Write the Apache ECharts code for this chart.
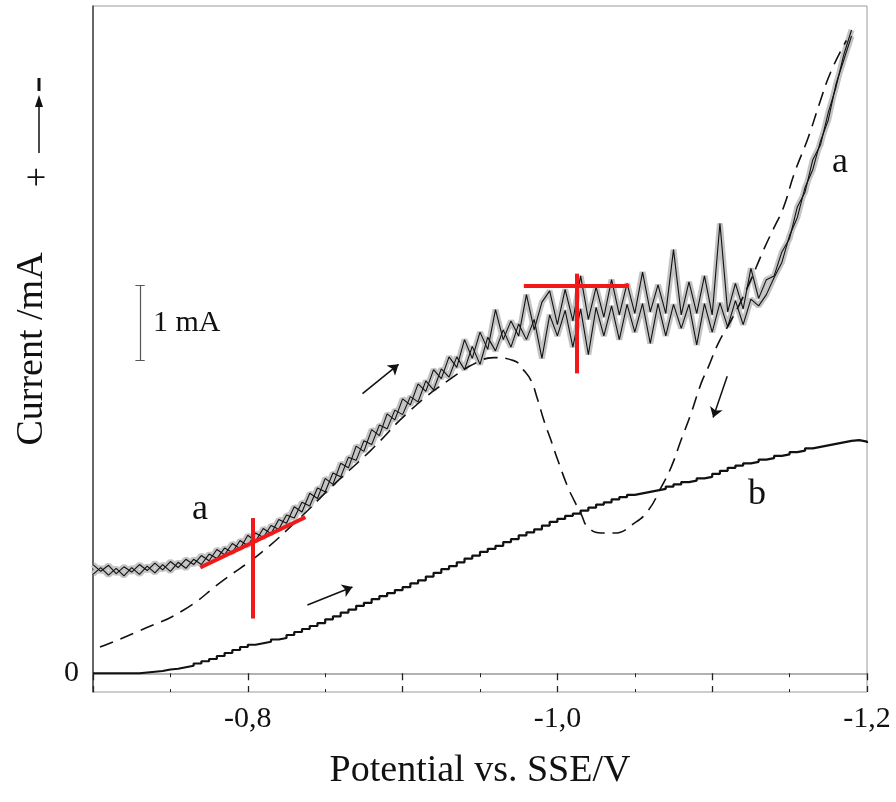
<!DOCTYPE html>
<html>
<head>
<meta charset="utf-8">
<script src="https://cdn.jsdelivr.net/npm/echarts@6/dist/echarts.min.js"></script>
<style>
	html, body { margin: 0; padding: 0; background: #fff; }
	#chart { width: 896px; height: 802px; }
</style>
</head>
<body>
<div id="chart"></div>
<script>
// potential grid (V vs. SSE), shared by curves a and b
var potential = [
	-0.700, -0.705, -0.710, -0.715, -0.720, -0.725, -0.730, -0.735, -0.740, -0.745,
	-0.750, -0.755, -0.760, -0.765, -0.770, -0.775, -0.780, -0.785, -0.790, -0.795,
	-0.800, -0.805, -0.810, -0.815, -0.820, -0.825, -0.830, -0.835, -0.840, -0.845,
	-0.850, -0.855, -0.860, -0.865, -0.870, -0.875, -0.880, -0.885, -0.890, -0.895,
	-0.900, -0.905, -0.910, -0.915, -0.920, -0.925, -0.930, -0.935, -0.940, -0.945,
	-0.950, -0.955, -0.960, -0.965, -0.970, -0.975, -0.980, -0.985, -0.990, -0.995,
	-1.000, -1.005, -1.010, -1.015, -1.020, -1.025, -1.030, -1.035, -1.040, -1.045,
	-1.050, -1.055, -1.060, -1.065, -1.070, -1.075, -1.080, -1.085, -1.090, -1.095,
	-1.100, -1.105, -1.110, -1.115, -1.120, -1.125, -1.130, -1.135, -1.140, -1.145,
	-1.150, -1.155, -1.160, -1.165, -1.170, -1.175, -1.180, -1.185, -1.190, -1.195,
	-1.200
];

// curve a, forward scan (mA)
var curveA1 = [
	1.45, 1.36, 1.44, 1.33, 1.42, 1.35, 1.45, 1.37, 1.47, 1.38,
	1.49, 1.41, 1.52, 1.45, 1.57, 1.50, 1.65, 1.58, 1.73, 1.66,
	1.84, 1.76, 1.93, 1.86, 2.05, 2.00, 2.22, 2.15, 2.40, 2.33,
	2.60, 2.52, 2.80, 2.74, 3.03, 2.96, 3.25, 3.17, 3.46, 3.38,
	3.66, 3.58, 3.86, 3.76, 4.05, 3.93, 4.22, 4.08, 4.45, 4.20,
	4.55, 4.32, 4.85, 4.45, 4.70, 4.50, 5.05, 4.58, 4.95, 5.10,
	4.65, 5.12, 4.70, 5.30, 4.72, 5.15, 4.75, 5.25, 4.78, 5.20,
	4.80, 5.35, 4.82, 5.18, 4.80, 5.65, 4.78, 5.22, 4.80, 5.30,
	4.78, 6.00, 4.82, 5.20, 4.86, 5.40, 5.00, 5.25, 5.30, 5.62,
	5.80, 6.22, 6.42, 6.85, 7.05, 7.48, 7.82, 8.25, 8.58, null,
	null
];

// curve a, reverse scan (mA)
var curveA2 = [
	1.32, 1.41, 1.31, 1.40, 1.30, 1.41, 1.32, 1.43, 1.34, 1.45,
	1.36, 1.48, 1.40, 1.52, 1.45, 1.59, 1.53, 1.67, 1.61, 1.77,
	1.70, 1.87, 1.81, 1.97, 1.92, 2.11, 2.07, 2.28, 2.23, 2.47,
	2.42, 2.67, 2.62, 2.88, 2.84, 3.10, 3.05, 3.31, 3.26, 3.51,
	3.45, 3.69, 3.62, 3.90, 3.78, 4.06, 3.95, 4.22, 4.05, 4.36,
	4.12, 4.48, 4.30, 4.58, 4.35, 4.66, 4.45, 4.72, 4.20, 4.78,
	4.50, 4.84, 4.35, 4.86, 4.25, 4.88, 4.50, 4.90, 4.45, 4.92,
	4.55, 4.93, 4.40, 4.93, 4.50, 4.92, 4.60, 4.92, 4.38, 4.93,
	4.55, 4.94, 4.62, 4.97, 4.65, 4.99, 4.90, 5.05, 5.28, 5.48,
	5.84, 6.08, 6.48, 6.72, 7.10, 7.38, 7.86, 8.18, 8.50, null,
	null
];

// curve b, stepped (mA)
var curveB = [
	0, 0, 0, 0, 0, 0, 0.01, 0.02, 0.03, 0.05,
	0.06, 0.08, 0.10, 0.13, 0.16, 0.19, 0.23, 0.27, 0.31, 0.35,
	0.38, 0.40, 0.42, 0.45, 0.47, 0.51, 0.55, 0.59, 0.63, 0.67,
	0.72, 0.76, 0.81, 0.85, 0.90, 0.94, 0.99, 1.03, 1.07, 1.11,
	1.15, 1.20, 1.24, 1.29, 1.34, 1.39, 1.43, 1.48, 1.53, 1.57,
	1.62, 1.66, 1.70, 1.75, 1.79, 1.84, 1.88, 1.92, 1.97, 2.02,
	2.06, 2.10, 2.13, 2.17, 2.21, 2.25, 2.28, 2.32, 2.35, 2.38,
	2.40, 2.42, 2.44, 2.46, 2.49, 2.52, 2.55, 2.57, 2.60, 2.62,
	2.66, 2.70, 2.74, 2.77, 2.80, 2.82, 2.85, 2.87, 2.90, 2.92,
	2.95, 2.97, 3.00, 3.02, 3.04, 3.06, 3.08, 3.10, 3.11, 3.09,
	3.07
];

// dashed curve
var dashV = [-0.7045, -0.7304, -0.7583, -0.7841, -0.8081, -0.8320, -0.8553, -0.8793, -0.9052, -0.9311,
	-0.9505, -0.9589, -0.9718, -0.9783, -0.9828, -0.9874, -0.9913, -0.9958, -1.0003, -1.0068,
	-1.0107, -1.0152, -1.0197, -1.0282, -1.0366, -1.0495, -1.0586, -1.0670, -1.0735, -1.0799,
	-1.0864, -1.0929, -1.0974, -1.1039, -1.1123, -1.1220, -1.1337, -1.1401, -1.1460, -1.1531,
	-1.1621, -1.1693, -1.1770, -1.1867];
var dashI = [0.35, 0.57, 0.84, 1.24, 1.60, 2.04, 2.51, 2.97, 3.51, 3.93,
	4.17, 4.21, 4.17, 4.04, 3.91, 3.64, 3.37, 3.11, 2.84, 2.48,
	2.31, 2.13, 1.95, 1.87, 1.87, 2.00, 2.17, 2.48, 2.75, 3.11,
	3.47, 3.87, 4.08, 4.40, 4.71, 5.11, 5.67, 5.95, 6.21, 6.67,
	7.15, 7.60, 8.04, 8.44];

// red tangent constructions [V, mA]
var redLines = [
	[[-0.7693, 1.41], [-0.8372, 2.08]],
	[[-0.8029, 2.07], [-0.8029, 0.73]],
	[[-0.9783, 5.17], [-1.0463, 5.17]],
	[[-1.0126, 5.33], [-1.0126, 4.00]]
];

// scan direction arrows [from, to]
var scanArrows = [
	[[-0.8741, 3.73], [-0.8974, 4.12]],
	[[-0.8385, 0.91], [-0.8676, 1.15]],
	[[-1.1097, 3.96], [-1.1006, 3.41]]
];

// 1 mA scale bar
var scaleBar = [
	[[-0.7304, 4.17], [-0.7304, 5.17]],
	[[-0.7274, 4.17], [-0.7334, 4.17]],
	[[-0.7274, 5.17], [-0.7334, 5.17]]
];

var serif = 'Liberation Serif';

function pairs(xs, ys) {
	var out = [];
	for (var i = 0; i < xs.length; i++) {
		out.push([xs[i], ys[i]]);
	}
	return out;
}
function segs(list) {
	return list.map(function(s) { return { coords: s }; });
}

var myChart = echarts.init(document.getElementById('chart'));

var xBase = {
	type: 'value',
	min: -1.2,
	max: -0.7,
	interval: 0.1,
	inverse: true,
	splitLine: { show: false }
};

var option = {
	animation: false,
	backgroundColor: '#fff',
	textStyle: { fontFamily: serif },
	grid: {
		left: 93,
		right: 29,
		top: 6,
		bottom: 110,
		show: true,
		borderColor: '#9a9a9a',
		borderWidth: 1
	},
	xAxis: [
		Object.assign({}, xBase, {
			position: 'bottom',
			name: 'Potential vs. SSE/V',
			nameLocation: 'middle',
			nameGap: 60,
			nameTextStyle: { fontSize: 38, fontFamily: serif, color: '#111' },
			axisLine: { lineStyle: { color: '#999', width: 1.5 } },
			axisTick: { length: 7, lineStyle: { color: '#222', width: 1.3 } },
			minorTick: { show: true, splitNumber: 2, length: 4, lineStyle: { color: '#222' } },
			axisLabel: {
				fontSize: 30,
				fontFamily: serif,
				color: '#111',
				margin: 12,
				showMinLabel: true,
				showMaxLabel: true,
				formatter: function(v) {
					var r = Math.round(v * 10) / 10;
					if (r === -0.8 || r === -1 || r === -1.2) {
						return r.toFixed(1).replace('.', ',');
					}
					return '';
				}
			}
		}),
		Object.assign({}, xBase, {
			position: 'bottom',
			axisLine: { show: false },
			axisTick: { inside: true, length: 6, lineStyle: { color: '#222', width: 1.3 } },
			minorTick: { show: true, splitNumber: 2, length: 3, lineStyle: { color: '#222' } },
			axisLabel: { show: false }
		})
	],
	yAxis: {
		type: 'value',
		min: -0.25,
		max: 8.9,
		name: 'Current /mA',
		nameLocation: 'middle',
		nameGap: 42,
		nameTextStyle: { fontSize: 38, fontFamily: serif, color: '#111' },
		axisLine: { show: true, lineStyle: { color: '#444', width: 1.5 } },
		axisTick: { show: false },
		splitLine: { show: false },
		axisLabel: {
			customValues: [0],
			fontSize: 30,
			fontFamily: serif,
			color: '#111',
			margin: 14
		}
	},
	series: [
		{
			type: 'line', name: 'a-band1', data: pairs(potential, curveA1), showSymbol: false,
			lineStyle: { color: '#c4c4c4', width: 6 }, z: 1
		},
		{
			type: 'line', name: 'a-band2', data: pairs(potential, curveA2), showSymbol: false,
			lineStyle: { color: '#c4c4c4', width: 6 }, z: 1
		},
		{
			type: 'line', name: 'a-fwd', data: pairs(potential, curveA1), showSymbol: false,
			lineStyle: { color: '#111', width: 1.1 }, z: 2
		},
		{
			type: 'line', name: 'a-rev', data: pairs(potential, curveA2), showSymbol: false,
			lineStyle: { color: '#111', width: 1.1 }, z: 2
		},
		{
			type: 'line', name: 'dashed', data: pairs(dashV, dashI), showSymbol: false, smooth: true,
			lineStyle: { color: '#111', width: 1.6, type: [14, 8] }, z: 3
		},
		{
			type: 'line', name: 'b', data: pairs(potential, curveB), showSymbol: false, step: 'end',
			lineStyle: { color: '#111', width: 2.2 }, z: 3
		},
		{
			type: 'lines', coordinateSystem: 'cartesian2d', data: segs(redLines),
			symbol: ['none', 'none'],
			lineStyle: { color: '#f01818', width: 4, opacity: 1 }, z: 5
		},
		{
			type: 'lines', coordinateSystem: 'cartesian2d', data: segs(scanArrows),
			symbol: ['none', 'arrow'], symbolSize: 10,
			lineStyle: { color: '#111', width: 1.5, opacity: 1 }, z: 4
		},
		{
			type: 'lines', coordinateSystem: 'cartesian2d', data: segs(scaleBar),
			symbol: ['none', 'none'],
			lineStyle: { color: '#555', width: 1.2, opacity: 1 }, z: 4
		}
	],
	graphic: [
		{ type: 'text', x: 200, y: 510, style: { text: 'a', fontSize: 36, fontFamily: serif, fill: '#111', align: 'center', verticalAlign: 'middle' } },
		{ type: 'text', x: 840, y: 163, style: { text: 'a', fontSize: 36, fontFamily: serif, fill: '#111', align: 'center', verticalAlign: 'middle' } },
		{ type: 'text', x: 757, y: 495, style: { text: 'b', fontSize: 36, fontFamily: serif, fill: '#111', align: 'center', verticalAlign: 'middle' } },
		{ type: 'text', x: 153, y: 323, style: { text: '1 mA', fontSize: 30, fontFamily: serif, fill: '#111', align: 'left', verticalAlign: 'middle' } },
		{ type: 'text', x: 39, y: 177, rotation: Math.PI / 2, style: { text: '+', fontSize: 36, fontFamily: serif, fill: '#111', align: 'center', verticalAlign: 'middle' } },
		{ type: 'line', shape: { x1: 39, y1: 153, x2: 39, y2: 104 }, style: { stroke: '#111', lineWidth: 1.5 } },
		{ type: 'polygon', shape: { points: [[39, 95], [35, 107], [43, 107]] }, style: { fill: '#111' } },
		{ type: 'rect', shape: { x: 37.5, y: 78, width: 3, height: 13 }, style: { fill: '#111' } }
	]
};

myChart.setOption(option);
</script>
</body>
</html>
